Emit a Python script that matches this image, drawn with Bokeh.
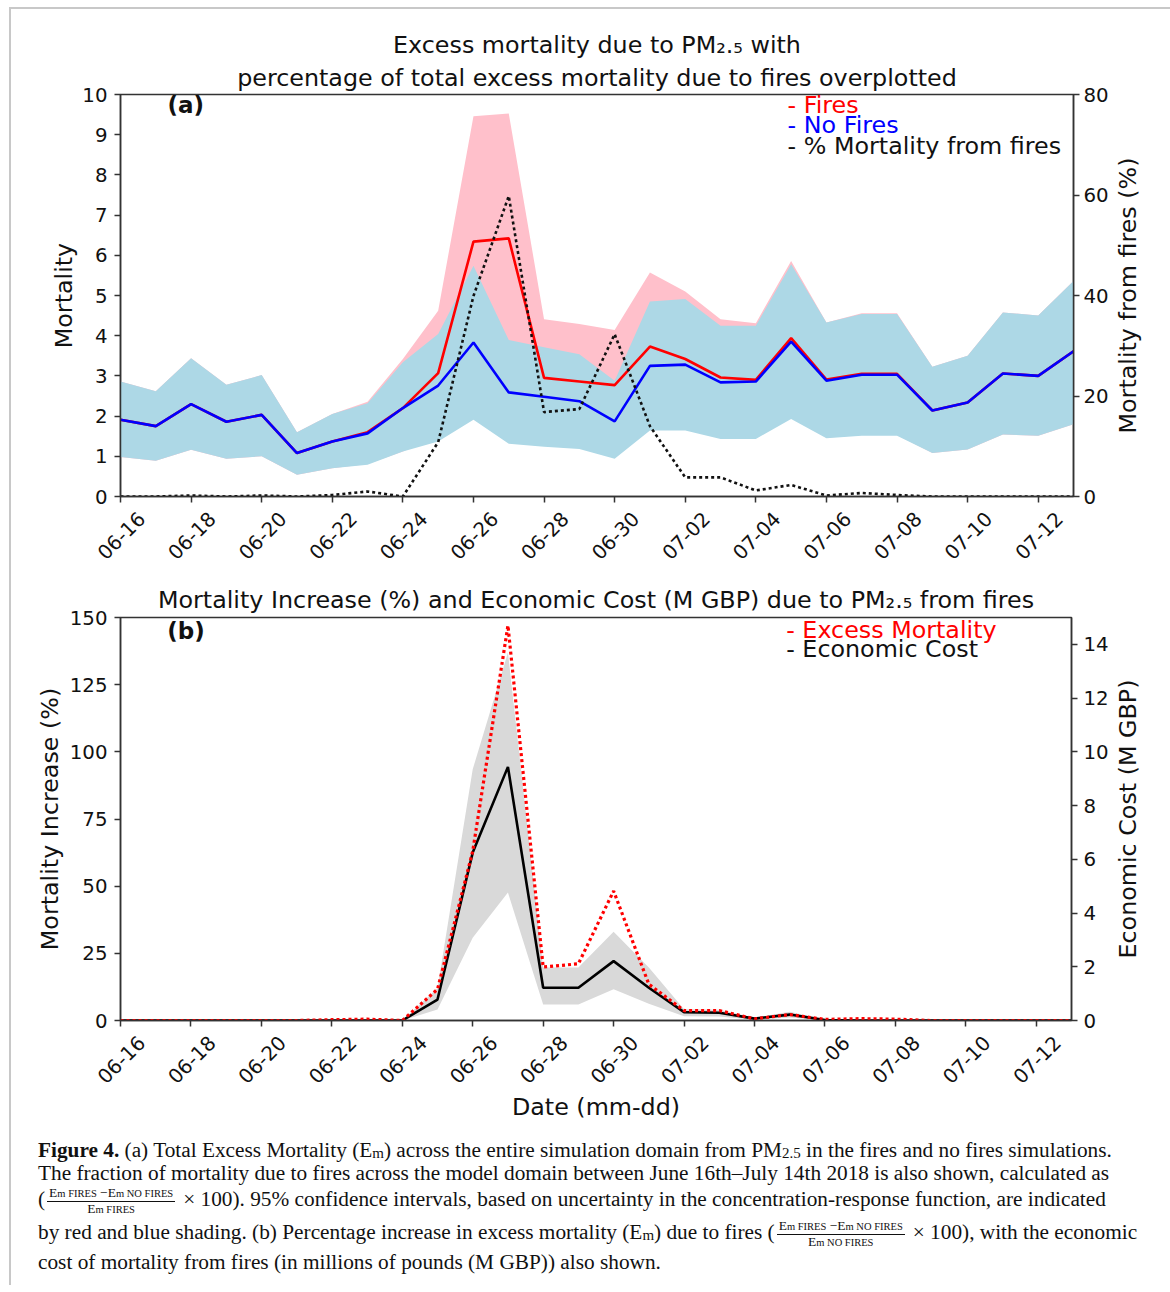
import math
from bokeh.plotting import figure
from bokeh.models import Range1d, LinearAxis, FixedTicker, Label, Div, Title
from bokeh.layouts import column, row
from bokeh.embed import file_html
from bokeh.resources import INLINE

# ---------------- data ----------------
dates = ["06-16", "06-17", "06-18", "06-19", "06-20", "06-21", "06-22", "06-23",
         "06-24", "06-25", "06-26", "06-27", "06-28", "06-29", "06-30", "07-01",
         "07-02", "07-03", "07-04", "07-05", "07-06", "07-07", "07-08", "07-09",
         "07-10", "07-11", "07-12", "07-13"]

fires = [1.91, 1.75, 2.30, 1.86, 2.03, 1.08, 1.37, 1.60, 2.20, 3.07, 6.34, 6.42, 2.95, 2.86,
         2.77, 3.73, 3.42, 2.96, 2.90, 3.94, 2.91, 3.05, 3.05, 2.14, 2.34, 3.06, 3.00, 3.61]
fires_hi = [2.86, 2.62, 3.44, 2.78, 3.02, 1.60, 2.05, 2.36, 3.42, 4.62, 9.46, 9.53, 4.41, 4.29,
            4.14, 5.57, 5.10, 4.41, 4.31, 5.86, 4.33, 4.56, 4.56, 3.23, 3.50, 4.58, 4.50, 5.36]
fires_lo = [0.98, 0.89, 1.16, 0.94, 1.00, 0.54, 0.70, 0.81, 1.12, 1.52, 3.17, 3.21, 1.47, 1.43,
            1.38, 1.87, 1.71, 1.48, 1.45, 1.97, 1.46, 1.53, 1.53, 1.08, 1.17, 1.54, 1.51, 1.80]
no_fires = [1.91, 1.75, 2.30, 1.86, 2.03, 1.08, 1.37, 1.57, 2.20, 2.76, 3.83, 2.59, 2.48, 2.37,
            1.87, 3.25, 3.28, 2.84, 2.86, 3.85, 2.88, 3.03, 3.03, 2.14, 2.34, 3.06, 3.00, 3.61]
no_fires_hi = [2.86, 2.62, 3.44, 2.78, 3.02, 1.60, 2.05, 2.32, 3.34, 4.04, 5.74, 3.89, 3.71, 3.54,
               2.88, 4.85, 4.91, 4.25, 4.25, 5.78, 4.33, 4.54, 4.54, 3.23, 3.50, 4.58, 4.50, 5.36]
no_fires_lo = [0.98, 0.89, 1.16, 0.94, 1.00, 0.54, 0.70, 0.79, 1.12, 1.37, 1.91, 1.31, 1.24, 1.18,
               0.94, 1.64, 1.64, 1.43, 1.43, 1.93, 1.45, 1.51, 1.51, 1.08, 1.17, 1.54, 1.51, 1.80]
pct_from_fires = [0.0, 0.0, 0.2, 0.0, 0.2, 0.0, 0.3, 1.0, 0.0, 10.8, 39.9, 59.8, 16.8, 17.4,
                  32.3, 14.0, 3.8, 3.8, 1.2, 2.3, 0.2, 0.7, 0.3, 0.0, 0.0, 0.0, 0.0, 0.0]

mort_increase = [0.0, 0.0, 0.0, 0.0, 0.0, 0.0, 0.3, 0.5, 0.0, 11.6, 63.0, 147.0, 19.9, 21.1,
                 48.2, 13.5, 3.7, 3.7, 0.6, 2.2, 0.4, 0.7, 0.5, 0.0, 0.0, 0.0, 0.0, 0.0]
econ_cost = [0.0, 0.0, 0.0, 0.0, 0.0, 0.0, 0.0, 0.0, 0.0, 0.78, 6.25, 9.44, 1.22, 1.22,
             2.21, 1.22, 0.31, 0.29, 0.07, 0.22, 0.02, 0.0, 0.0, 0.0, 0.0, 0.0, 0.0, 0.0]
econ_lo = [0.0, 0.0, 0.0, 0.0, 0.0, 0.0, 0.0, 0.0, 0.0, 0.41, 3.08, 4.76, 0.60, 0.60,
           1.16, 0.62, 0.16, 0.15, 0.03, 0.11, 0.01, 0.0, 0.0, 0.0, 0.0, 0.0, 0.0, 0.0]
econ_hi = [0.0, 0.0, 0.0, 0.0, 0.0, 0.0, 0.0, 0.0, 0.0, 1.20, 9.35, 13.7, 1.97, 1.97,
           3.30, 1.97, 0.42, 0.40, 0.10, 0.33, 0.03, 0.0, 0.0, 0.0, 0.0, 0.0, 0.0, 0.0]

days = list(range(len(dates)))
tick_days = days[::2]
tick_labels = {d: dates[d] for d in tick_days}

title_a1 = "Excess mortality due to PM\u2082.\u2085 with"
title_a2 = "percentage of total excess mortality due to fires overplotted"
title_b = "Mortality Increase (%) and Economic Cost (M GBP) due to PM\u2082.\u2085 from fires"

# ---------------- style ----------------
FONT = "DejaVu Sans"
BIG = "23.8px"
TICK = "19.8px"
AX = "#333333"
TXT = "#111111"
WP = 1100      # main figure width
WT = 53        # side strip holding the right-hand axis title
SHIFT = 0.6    # matplotlib centres rotated labels on ticks


def style_axis(ax):
    ax.axis_line_color = AX
    ax.axis_line_width = 1.5
    ax.major_tick_line_color = AX
    ax.major_tick_line_width = 1.5
    ax.major_tick_out = 6
    ax.major_tick_in = 0
    ax.minor_tick_line_color = None
    ax.major_label_text_font = FONT
    ax.major_label_text_font_size = TICK
    ax.major_label_text_color = TXT
    ax.axis_label_text_font = FONT
    ax.axis_label_text_font_size = BIG
    ax.axis_label_text_font_style = "normal"
    ax.axis_label_text_color = TXT
    return ax


def add_date_axes(p, xlabel=""):
    p.extra_x_ranges["lab"] = Range1d(-SHIFT, days[-1] - SHIFT)
    main = style_axis(LinearAxis(ticker=FixedTicker(ticks=tick_days)))
    main.major_label_overrides = {d: "" for d in tick_days}
    main.major_label_text_font_size = "0px"
    main.major_label_standoff = 0
    p.add_layout(main, "below")
    lab = style_axis(LinearAxis(x_range_name="lab", ticker=FixedTicker(ticks=tick_days)))
    lab.major_label_overrides = tick_labels
    lab.major_label_orientation = math.pi / 4
    lab.axis_line_color = None
    lab.major_tick_line_color = None
    lab.major_tick_out = 0
    lab.major_label_standoff = 13
    if xlabel:
        lab.axis_label = xlabel
        lab.axis_label_standoff = 0
    p.add_layout(lab, "below")


def make_fig(height, ymax, top, bottom):
    p = figure(width=WP, height=height, x_range=Range1d(0, days[-1]), y_range=Range1d(0, ymax),
               output_backend="svg", toolbar_location=None,
               x_axis_location=None, y_axis_location=None,
               min_border_left=109, min_border_right=38, min_border_top=top,
               min_border_bottom=bottom)
    p.xgrid.visible = False
    p.ygrid.visible = False
    p.outline_line_color = AX
    p.outline_line_width = 1.5
    p.background_fill_color = "white"
    p.border_fill_color = "white"
    return p


def side_title(height, text):
    # the strip's frame is aligned with the neighbouring plot frame by the row layout,
    # so a 0..1 range places the text at the middle of the plotted axis
    s = figure(width=WT, height=height, x_range=Range1d(0, WT), y_range=Range1d(0, 1),
               output_backend="svg", toolbar_location=None,
               x_axis_location=None, y_axis_location=None, min_border=0)
    s.xgrid.visible = False
    s.ygrid.visible = False
    s.outline_line_color = None
    s.add_layout(Label(x=16, y=0.5, text=text, angle=math.pi / 2, text_align="center",
                       text_baseline="middle", text_font=FONT, text_font_size=BIG,
                       text_color=TXT))
    return s


def add_title(p, text, standoff):
    p.add_layout(Title(text=text, align="center", text_font=FONT, text_font_size=BIG,
                       text_font_style="normal", text_color=TXT, standoff=standoff), "above")


def add_text(p, x, y, text, color=TXT, size=BIG, bold=False):
    p.add_layout(Label(x=x, y=y, text=text, text_color=color, text_font=FONT,
                       text_font_size=size, text_align="left", text_baseline="middle",
                       text_font_style="bold" if bold else "normal"))


# ---------------- panel (a) ----------------
HA = 561
pa = make_fig(HA, 10, 85, 74)
pa.extra_y_ranges["pct"] = Range1d(0, 80)

pa.varea(x=days, y1=fires_lo, y2=fires_hi, fill_color="#ffc0cb")
pa.varea(x=days, y1=no_fires_lo, y2=no_fires_hi, fill_color="#add8e6")
pa.line(days, fires, line_color="#ff0000", line_width=2.6)
pa.line(days, no_fires, line_color="#0000ff", line_width=2.6)
pa.line(days, pct_from_fires, y_range_name="pct", line_color="#111111", line_width=2.6,
        line_dash="3 3")

ya = style_axis(LinearAxis(ticker=FixedTicker(ticks=list(range(0, 11)))))
ya.axis_label = "Mortality"
ya.major_label_standoff = 7
ya.axis_label_standoff = 1
pa.add_layout(ya, "left")
yb = style_axis(LinearAxis(y_range_name="pct", ticker=FixedTicker(ticks=[0, 20, 40, 60, 80])))
yb.major_label_standoff = 4
pa.add_layout(yb, "right")
add_date_axes(pa)

add_title(pa, title_a2, 6)
add_title(pa, title_a1, 0)
add_text(pa, 1.33, 9.75, "(a)", bold=True, size="23px")
add_text(pa, 18.9, 9.75, "- Fires", color="#ff0000")
add_text(pa, 18.9, 9.23, "- No Fires", color="#0000ff")
add_text(pa, 18.9, 8.72, "- % Mortality from fires", color="#111111")

sa = side_title(HA, "Mortality from fires (%)")

# ---------------- panel (b) ----------------
HB = 555
pb = make_fig(HB, 150, 47, 105)
pb.extra_y_ranges["cost"] = Range1d(0, 15)

pb.varea(x=days, y1=econ_lo, y2=econ_hi, fill_color="#d9d9d9", y_range_name="cost")
pb.line(days, econ_cost, y_range_name="cost", line_color="#000000", line_width=2.6)
pb.line(days, mort_increase, line_color="#ff0000", line_width=3.2, line_dash="3 3")

yc = style_axis(LinearAxis(ticker=FixedTicker(ticks=[0, 25, 50, 75, 100, 125, 150])))
yc.axis_label = "Mortality Increase (%)"
yc.major_label_standoff = 7
yc.axis_label_standoff = 3
pb.add_layout(yc, "left")
yd = style_axis(LinearAxis(y_range_name="cost", ticker=FixedTicker(ticks=[0, 2, 4, 6, 8, 10, 12, 14])))
yd.major_label_standoff = 6
pb.add_layout(yd, "right")
add_date_axes(pb, "Date (mm-dd)")

add_title(pb, title_b, 8)
add_text(pb, 1.33, 145.1, "(b)", bold=True, size="23px")
add_text(pb, 18.9, 145.5, "- Excess Mortality", color="#ff0000")
add_text(pb, 18.9, 138.1, "- Economic Cost", color="#111111")

sb = side_title(HB, "Economic Cost (M GBP)")

# ---------------- caption ----------------
SM = 'style="font-size:10.5px"'
SUB = '<span style="font-size:15px;vertical-align:-1px;line-height:0">'


def em(sub):
    return f'E<span {SM}>{sub}</span>'


def frac(num, den):
    return ('<span style="display:inline-block;vertical-align:middle;text-align:center;'
            'line-height:14px;margin:0 8px 0 2px">'
            f'<span style="display:block;border-bottom:1px solid #111;padding:0 2px;font-size:13.5px">{num}</span>'
            f'<span style="display:block;font-size:13.5px">{den}</span></span>')


def line(h, html):
    return (f'<div style="height:{h}px;line-height:{h}px;white-space:nowrap">{html}</div>')


num = em("m FIRES") + " \u2212" + em("m NO FIRES")
caption = (
    '<div style="font-family:\'Liberation Serif\',serif;font-size:21.3px;color:#111;'
    'padding:9px 0 0 22px;">'
    + line(23, '<b>Figure 4.</b> (a) Total Excess Mortality (E' + SUB + 'm</span>) across the entire simulation '
           'domain from PM' + SUB + '2.5</span> in the fires and no fires simulations.')
    + line(23, 'The fraction of mortality due to fires across the model domain between June 16th\u2013July 14th '
           '2018 is also shown, calculated as')
    + line(28, '(' + frac(num, em("m FIRES")) + '\u00d7 100). 95% confidence intervals, based on uncertainty in '
           'the concentration-response function, are indicated')
    + line(38, 'by red and blue shading. (b) Percentage increase in excess mortality (E' + SUB + 'm</span>) due to fires ('
           + frac(num, em("m NO FIRES")) + '\u00d7 100), with the economic')
    + line(22, 'cost of mortality from fires (in millions of pounds (M GBP)) also shown.')
    + '</div>'
)
cap = Div(text=caption, width=WP + WT, height=150)

layout = column(row(pa, sa, spacing=0), row(pb, sb, spacing=0), cap, spacing=0,
                styles={"margin-left": "9px", "margin-top": "7px",
                        "border-left": "2px solid #c8c8c8", "border-top": "2px solid #c8c8c8",
                        "border-right": "2px solid #c8c8c8"})

open("out.html", "w").write(file_html(layout, INLINE))
